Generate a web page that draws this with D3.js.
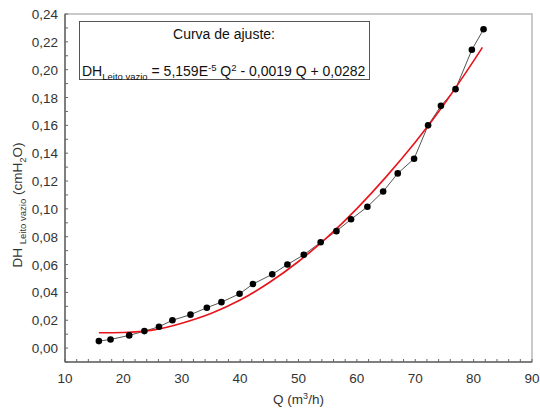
<!DOCTYPE html>
<html lang="en">
  <head>
    <meta charset="utf-8" />
    <script src="https://d3js.org/d3.v7.min.js"></script>
    <style>
      body { margin: 0; background: #fff; }
      text { font-family: "Liberation Sans", Arial, sans-serif; fill: #333; }
    </style>
  </head>
  <body>
    <svg id="chart" width="540" height="410"></svg>
    <script>
      // measured points (Q in m3/h, DH in cmH2O)
      const qData = [15.8, 17.8, 21.0, 23.6, 26.1, 28.4, 31.5, 34.3, 36.8, 39.9, 42.2, 45.5, 48.1, 50.9, 53.8, 56.5, 59.0, 61.8, 64.5, 67.0, 69.8, 72.2, 74.4, 76.9, 79.7, 81.7];
      const dhData = [0.005, 0.0062, 0.0091, 0.0122, 0.0153, 0.020, 0.024, 0.029, 0.033, 0.039, 0.046, 0.053, 0.060, 0.067, 0.076, 0.084, 0.0925, 0.1015, 0.1125, 0.1255, 0.136, 0.160, 0.174, 0.186, 0.2143, 0.229];
      // red fit curve
      const qFit = [15.8, 20, 25, 30, 35, 40, 45, 50, 55, 60, 65, 70, 75, 80, 81.5];
      const dhFit = [0.0110, 0.0112, 0.0129, 0.0179, 0.0249, 0.0345, 0.0471, 0.0622, 0.0799, 0.1002, 0.1230, 0.1479, 0.1755, 0.2063, 0.2160];
      const xTicks = [10, 20, 30, 40, 50, 60, 70, 80, 90];
      const yTicks = [0, 0.02, 0.04, 0.06, 0.08, 0.10, 0.12, 0.14, 0.16, 0.18, 0.20, 0.22, 0.24];

      const svg = d3.select("svg#chart");
      const margin = {top: 14, right: 8, bottom: 48, left: 65};
      const width = +svg.attr("width");
      const height = +svg.attr("height");

      const x = d3.scaleLinear().domain([10, 90]).range([margin.left, 532]);
      const y = d3.scaleLinear().domain([-0.01, 0.24]).range([362, margin.top]);
      const fmt = d => d3.format(".2f")(d).replace(".", ",");

      // frame: light top/right
      svg.append("rect")
        .attr("x", x(10)).attr("y", y(0.24))
        .attr("width", x(90) - x(10)).attr("height", y(-0.01) - y(0.24))
        .attr("fill", "none").attr("stroke", "#b8b8b8").attr("stroke-width", 1.5);

      // minor ticks
      const xMinor = d3.range(10, 90.01, 2);
      const yMinor = d3.range(-0.01, 0.2401, 0.01);
      const axisG = svg.append("g").attr("stroke", "#666").attr("stroke-width", 1);
      axisG.selectAll("line.xt").data(xMinor).join("line")
        .attr("class", "xt")
        .attr("x1", d => x(d)).attr("x2", d => x(d))
        .attr("y1", y(-0.01)).attr("y2", y(-0.01) - 3);
      axisG.selectAll("line.yt").data(yMinor).join("line")
        .attr("class", "yt")
        .attr("x1", x(10)).attr("x2", x(10) + 3)
        .attr("y1", d => y(d)).attr("y2", d => y(d));
      // axis lines
      svg.append("line").attr("x1", x(10)).attr("x2", x(90)).attr("y1", y(-0.01)).attr("y2", y(-0.01))
        .attr("stroke", "#666").attr("stroke-width", 1.5);
      svg.append("line").attr("x1", x(10)).attr("x2", x(10)).attr("y1", y(-0.01)).attr("y2", y(0.24))
        .attr("stroke", "#666").attr("stroke-width", 1.5);

      // tick labels
      svg.selectAll("text.xl").data(xTicks).join("text")
        .attr("class", "xl")
        .attr("x", d => x(d)).attr("y", 383)
        .attr("text-anchor", "middle").style("font-size", "13.5px")
        .text(d => d);
      svg.selectAll("text.yl").data(yTicks).join("text")
        .attr("class", "yl")
        .attr("x", 58).attr("y", d => y(d) + 5)
        .attr("text-anchor", "end").style("font-size", "13.5px")
        .text(fmt);

      // axis titles
      const xt = svg.append("text").attr("x", x(50)).attr("y", 404)
        .attr("text-anchor", "middle").style("font-size", "13.5px");
      xt.append("tspan").text("Q (m");
      xt.append("tspan").attr("dy", -5).style("font-size", "9px").text("3");
      xt.append("tspan").attr("dy", 5).text("/h)");

      const yt = svg.append("text")
        .attr("transform", "translate(22," + 205 + ") rotate(-90)")
        .attr("text-anchor", "middle").style("font-size", "13.5px");
      yt.append("tspan").text("DH ");
      yt.append("tspan").attr("dy", 4).style("font-size", "9.5px").text("Leito vazio");
      yt.append("tspan").attr("dy", -4).text(" (cmH");
      yt.append("tspan").attr("dy", 4).style("font-size", "9.5px").text("2");
      yt.append("tspan").attr("dy", -4).text("O)");

      // data line + points
      const pts = qData.map((q, i) => [q, dhData[i]]);
      const fit = qFit.map((q, i) => [q, dhFit[i]]);
      svg.append("path").datum(pts)
        .attr("d", d3.line().x(d => x(d[0])).y(d => y(d[1])))
        .attr("fill", "none").attr("stroke", "#555").attr("stroke-width", 1);
      svg.append("path").datum(fit)
        .attr("d", d3.line().curve(d3.curveNatural).x(d => x(d[0])).y(d => y(d[1])))
        .attr("fill", "none").attr("stroke", "#e8141c").attr("stroke-width", 1.6);
      svg.selectAll("circle.pt").data(pts).join("circle")
        .attr("class", "pt")
        .attr("cx", d => x(d[0])).attr("cy", d => y(d[1]))
        .attr("r", 3.3).attr("fill", "#000");

      // legend box
      const lg = svg.append("g");
      lg.append("rect").attr("x", 79.5).attr("y", 21.5).attr("width", 290).attr("height", 58)
        .attr("fill", "#fff").attr("stroke", "#555").attr("stroke-width", 1);
      lg.append("text").attr("x", 224).attr("y", 39).attr("text-anchor", "middle")
        .style("font-size", "14px").style("fill", "#111").text("Curva de ajuste:");
      const eq = lg.append("text").attr("x", 82).attr("y", 76).style("font-size", "14px").style("fill", "#111");
      eq.append("tspan").text("DH");
      eq.append("tspan").attr("dy", 4).style("font-size", "9.5px").text("Leito vazio");
      eq.append("tspan").attr("dy", -4).text(" = 5,159E");
      eq.append("tspan").attr("dy", -5).style("font-size", "9.5px").text("-5");
      eq.append("tspan").attr("dy", 5).text(" Q");
      eq.append("tspan").attr("dy", -5).style("font-size", "9.5px").text("2");
      eq.append("tspan").attr("dy", 5).text(" - 0,0019 Q + 0,0282");
    </script>
  </body>
</html>
